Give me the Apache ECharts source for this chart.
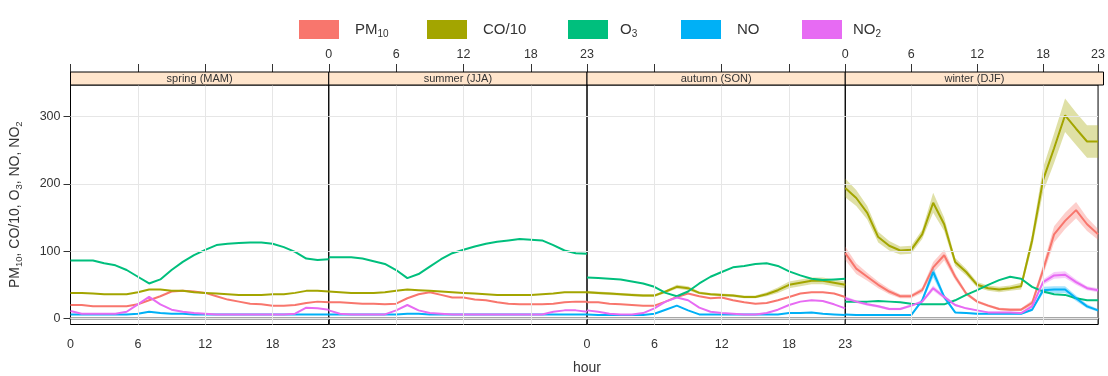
<!DOCTYPE html>
<html>
<head>
<meta charset="utf-8">
<script src="https://cdn.jsdelivr.net/npm/echarts@6/dist/echarts.min.js"></script>
<style>
  html, body { margin: 0; padding: 0; background: #fff; }
  #chart { width: 1108px; height: 376px; }
</style>
</head>
<body>
<div id="chart"></div>
<script>
// hours of the day
const hours = [0,1,2,3,4,5,6,7,8,9,10,11,12,13,14,15,16,17,18,19,20,21,22,23];
const xTicks = [0, 6, 12, 18, 23];
const yTicks = [0, 100, 200, 300];
const seasons = ['spring (MAM)', 'summer (JJA)', 'autumn (SON)', 'winter (DJF)'];

// spring
const spring_pm10 = [20,20,18,18,18,18,21,27,33,40,41,40,38,33,28,25,22,21,19,19,20,23,25,24];
const spring_co   = [38,38,37,36,36,36,39,43,43,41,41,39,38,37,36,35,35,35,36,36,38,41,41,40];
const spring_o3   = [86,86,86,82,79,72,62,52,58,72,84,94,102,109,111,112,113,113,111,106,99,89,87,88];
const spring_no   = [6,6,6,6,6,6,7,10,8,7,7,6,6,6,6,6,6,6,6,6,6,6,6,6];
const spring_no2  = [11,7,7,7,7,10,21,32,21,13,10,8,7,6,6,6,6,6,6,6,7,16,15,13];
// summer
const summer_pm10 = [24,24,23,22,22,21,22,30,36,39,35,31,31,28,27,24,22,21,21,21,22,24,25,25];
const summer_co   = [40,39,38,38,38,39,41,43,42,41,40,39,38,37,36,35,35,35,35,36,37,39,39,39];
const summer_o3   = [91,91,91,89,85,81,72,60,66,77,88,97,102,107,111,114,116,118,117,116,109,101,97,96];
const summer_no   = [6,6,6,6,6,6,6,7,7,6,6,6,6,6,6,6,6,6,6,6,6,6,6,6];
const summer_no2  = [12,7,6,6,6,6,12,20,12,8,7,6,6,6,6,6,6,6,6,6,10,12,12,10];
// autumn
const autumn_pm10 = [24,24,22,21,20,19,19,25,32,37,33,30,31,27,24,22,23,27,32,37,39,39,37,32];
const autumn_co   = [39,38,37,36,35,34,34,40,47,45,38,36,35,34,32,32,36,42,50,53,56,56,53,50];
const autumn_o3   = [61,60,59,58,55,52,47,38,33,40,52,62,69,76,78,81,82,78,70,64,59,57,58,59];
const autumn_no   = [6,5,5,5,5,5,7,13,19,12,6,6,6,6,6,6,6,6,8,8,9,7,6,5];
const autumn_no2  = [12,10,7,6,6,8,15,25,31,27,16,10,8,7,6,6,8,13,20,25,27,26,21,15];
// winter
const winter_pm10 = [97,74,62,50,40,33,33,42,76,94,62,37,25,19,14,13,13,23,72,125,145,161,140,125];
const winter_co   = [194,179,157,121,108,101,102,125,172,140,84,69,50,45,43,45,48,116,206,253,302,282,263,263];
const winter_o3   = [25,25,25,26,25,24,22,21,21,21,27,35,42,50,57,62,59,47,40,36,35,30,27,27];
const winter_no   = [6,5,5,5,5,5,5,27,69,32,9,8,7,7,7,7,7,13,42,43,43,30,18,12];
const winter_no2  = [30,25,21,18,14,14,19,25,45,32,20,15,12,9,9,9,8,18,54,64,65,54,45,42];

// 95% confidence half-widths (only where visible)
const autumn_co_ci   = [2,2,2,2,2,2,2,2,3,3,2,2,2,2,2,2,3,4,5,5,5,5,5,5];
const winter_pm10_ci = [10,8,6,5,4,3,3,4,8,8,5,3,2,2,2,2,2,4,8,12,12,12,10,8];
const winter_co_ci   = [14,12,10,8,7,6,6,7,15,10,6,5,4,4,4,4,5,10,18,22,25,24,24,24];
const winter_no_ci   = [1,1,1,1,1,1,1,3,8,4,1,1,1,1,1,1,1,2,5,5,5,4,3,2];
const winter_no2_ci  = [3,2,2,2,2,2,2,2,4,3,2,1,1,1,1,1,1,2,4,5,5,4,3,3];

const pollutants = ['PM10', 'CO/10', 'O3', 'NO', 'NO2'];
const colors = ['#F8766D', '#A3A500', '#00BF7D', '#00B0F6', '#E76BF3'];
const labelRich = { PM10: '{a|PM}{s|10}', 'CO/10': '{a|CO/10}', O3: '{a|O}{s|3}', NO: '{a|NO}', NO2: '{a|NO}{s|2}' };

const panels = [
  [spring_pm10, spring_co, spring_o3, spring_no, spring_no2],
  [summer_pm10, summer_co, summer_o3, summer_no, summer_no2],
  [autumn_pm10, autumn_co, autumn_o3, autumn_no, autumn_no2],
  [winter_pm10, winter_co, winter_o3, winter_no, winter_no2]
];
const bands = [
  [null, null, null, null, null],
  [null, null, null, null, null],
  [null, autumn_co_ci, null, null, null],
  [winter_pm10_ci, winter_co_ci, null, winter_no_ci, winter_no2_ci]
];

// layout
const plotL = 70.5, plotR = 1103.5, plotT = 85, plotB = 324.5, stripH = 13;
const pw = (plotR - plotL) / 4;
const font = 'Liberation Sans';
const legendLeft = [294, 422, 563, 676, 797];
const legendPad = [11, 11, 7, 11, 6];

let chart = echarts.init(document.getElementById('chart'));

let grids = [], xAxes = [], yAxes = [], series = [], graphics = [];
for (let i = 0; i < 4; i++) {
  grids.push({
    left: plotL + i * pw, width: pw, top: plotT, height: plotB - plotT,
    show: true, borderColor: '#000', borderWidth: 1, backgroundColor: 'transparent'
  });
  // bottom axis: labels on panels 1 and 3
  xAxes.push({
    type: 'value', gridIndex: i, position: 'bottom', min: 0, max: 23,
    axisLine: { show: true, lineStyle: { color: '#8c8c8c', width: 2.5 } },
    axisTick: { show: true, length: 6, customValues: xTicks, lineStyle: { color: '#333' } },
    axisLabel: { show: i % 2 === 0, customValues: xTicks, margin: 14, color: '#333', fontSize: 12.5, fontFamily: font },
    splitLine: { show: false }
  });
  // top axis above the strip: labels on panels 2 and 4
  xAxes.push({
    type: 'value', gridIndex: i, position: 'top', offset: stripH, min: 0, max: 23,
    axisLine: { show: false },
    axisTick: { show: true, length: 8, customValues: xTicks, lineStyle: { color: '#333' } },
    axisLabel: { show: i % 2 === 1, customValues: xTicks, margin: 11, color: '#333', fontSize: 12.5, fontFamily: font },
    splitLine: { show: false }
  });
  yAxes.push({
    type: 'value', gridIndex: i, min: -9, max: 347,
    position: i === 3 ? 'right' : 'left',
    axisLine: { show: false },
    axisTick: { show: i === 0 || i === 3, length: 7, customValues: yTicks, lineStyle: { color: '#333' } },
    axisLabel: { show: i === 0, customValues: yTicks, margin: 10, color: '#333', fontSize: 12.5, fontFamily: font },
    splitLine: { show: false },
    name: i === 0 ? 'PM{s|10}, CO/10, O{s|3}, NO, NO{s|2}' : '',
    nameLocation: 'middle', nameGap: 46,
    nameTextStyle: {
      color: '#333', fontSize: 14, fontFamily: font,
      rich: { s: { fontSize: 9.5, fontFamily: font, color: '#333', padding: [8, 0, 0, 0] } }
    }
  });

  // light grid lines
  series.push({
    type: 'line', xAxisIndex: i * 2, yAxisIndex: i, data: [], silent: true, z: 1,
    markLine: {
      silent: true, symbol: 'none', animation: false, label: { show: false },
      lineStyle: { color: '#e6e6e6', type: 'solid', width: 1 },
      data: yTicks.map(v => ({ yAxis: v })).concat([6, 12, 18].map(v => ({ xAxis: v })))
    }
  });

  // confidence bands
  panels[i].forEach((vals, p) => {
    const ci = bands[i][p];
    if (!ci) return;
    series.push({
      type: 'custom', name: 'ci', xAxisIndex: i * 2, yAxisIndex: i, z: 2, silent: true,
      data: hours.map((h, k) => [h, vals[k] - ci[k], vals[k] + ci[k]]),
      renderItem: function (params, api) {
        if (params.dataIndex !== 0) return null;
        let up = hours.map((h, k) => api.coord([h, vals[k] + ci[k]]));
        let lo = hours.map((h, k) => api.coord([h, vals[k] - ci[k]])).reverse();
        return { type: 'polygon', shape: { points: up.concat(lo) }, style: { fill: colors[p], opacity: 0.35 } };
      }
    });
  });

  // mean lines
  panels[i].forEach((vals, p) => {
    series.push({
      type: 'line', name: pollutants[p], xAxisIndex: i * 2, yAxisIndex: i, z: 3,
      data: hours.map((h, k) => [h, vals[k]]),
      showSymbol: false, symbol: 'none',
      lineStyle: { color: colors[p], width: 2 },
      itemStyle: { color: colors[p] }
    });
  });

  // strip
  graphics.push({
    type: 'rect', z: 10,
    shape: { x: plotL + i * pw, y: plotT - stripH, width: pw, height: stripH },
    style: { fill: '#FFE5CC', stroke: '#000', lineWidth: 1 }
  });
  graphics.push({
    type: 'text', z: 11,
    x: plotL + i * pw + pw / 2, y: plotT - stripH / 2,
    style: { text: seasons[i], fill: '#333', font: '11px "Liberation Sans"', align: 'center', verticalAlign: 'middle' }
  });
}

graphics.push({
  type: 'text', x: (plotL + plotR) / 2, y: 368,
  style: { text: 'hour', fill: '#333', font: '14px "Liberation Sans"', align: 'center', verticalAlign: 'middle' }
});

// one legend per key so each lands where it is in the picture
let legends = pollutants.map((name, p) => ({
  left: legendLeft[p], top: 15, itemWidth: 40, itemHeight: 19, icon: 'rect',
  data: [name],
  formatter: n => labelRich[n],
  textStyle: {
    color: '#333', fontFamily: font, padding: [0, 0, 0, legendPad[p]],
    rich: {
      a: { fontSize: 15, fontFamily: font, color: '#333' },
      s: { fontSize: 10, fontFamily: font, color: '#333', padding: [9, 0, 0, 0] }
    }
  }
}));

let option = {
  animation: false,
  backgroundColor: '#fff',
  textStyle: { fontFamily: font },
  legend: legends,
  grid: grids,
  xAxis: xAxes,
  yAxis: yAxes,
  series: series,
  graphic: graphics
};

chart.setOption(option);
</script>
</body>
</html>
